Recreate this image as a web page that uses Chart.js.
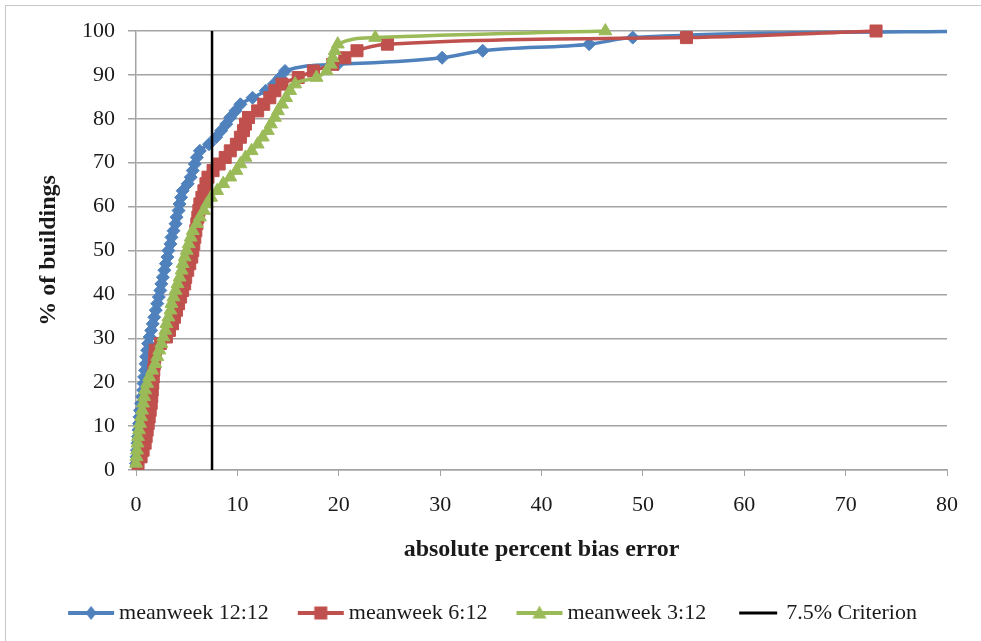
<!DOCTYPE html>
<html lang="en">
<head>
<meta charset="UTF-8">
<title>% of buildings vs absolute percent bias error</title>
<script src="https://cdn.jsdelivr.net/npm/chart.js@4.4.6/dist/chart.umd.min.js"></script>
<style>
  html, body { margin: 0; padding: 0; background: #fff; overflow: hidden; }
  .wrap { position: relative; width: 981px; height: 641px; }
  .frame {
    position: absolute; left: 5px; top: 5px; width: 1200px; height: 1000px;
    border-left: 1.5px solid #c8c8c8; border-top: 1.5px solid #c8c8c8;
  }
  canvas { position: absolute; left: 0; top: 0; }
</style>
</head>
<body>
<div class="wrap">
  <div class="frame"></div>
  <canvas id="chart" width="981" height="641"></canvas>
</div>
<script>
// ── Data ─────────────────────────────────────────────────────────────────────

// cumulative % of buildings, one step per building
const pctBuildings = [
  1.5, 3.0, 4.5, 6.1, 7.6, 9.1, 10.6, 12.1, 13.6, 15.2,
  16.7, 18.2, 19.7, 21.2, 22.7, 24.2, 25.8, 27.3, 28.8, 30.3,
  31.8, 33.3, 34.8, 36.4, 37.9, 39.4, 40.9, 42.4, 43.9, 45.5,
  47.0, 48.5, 50.0, 51.5, 53.0, 54.5, 56.1, 57.6, 59.1, 60.6,
  62.1, 63.6, 65.2, 66.7, 68.2, 69.7, 71.2, 72.7, 74.2, 75.8,
  77.3, 78.8, 80.3, 81.8, 83.3, 84.8, 86.4, 87.9, 89.4, 90.9,
  92.4, 93.9, 95.5, 97.0, 98.5, 100
];

// absolute percent bias error, sorted, per model
const errMeanweek12 = [
  0.0, 0.05, 0.1, 0.15, 0.2, 0.25, 0.3, 0.35, 0.4, 0.5,
  0.6, 0.7, 0.75, 0.8, 0.9, 0.95, 1.0, 1.1, 1.2, 1.35,
  1.5, 1.65, 1.8, 1.95, 2.1, 2.25, 2.4, 2.5, 2.65, 2.8,
  2.95, 3.1, 3.2, 3.4, 3.5, 3.7, 3.9, 4.0, 4.2, 4.3,
  4.45, 4.6, 5.1, 5.4, 5.6, 5.8, 6.0, 6.3, 7.2, 7.9,
  8.4, 8.9, 9.3, 9.8, 10.3, 11.5, 12.8, 13.6, 14.2, 14.7,
  19.9, 30.2, 34.2, 44.7, 49.0, 85.0
];
const errMeanweek6 = [
  0.2, 0.5, 0.7, 0.9, 1.0, 1.1, 1.2, 1.3, 1.4, 1.5,
  1.55, 1.6, 1.65, 1.7, 1.75, 1.8, 1.85, 1.9, 2.4, 3.0,
  3.3, 3.6, 3.8, 4.0, 4.2, 4.4, 4.6, 4.8, 4.9, 5.1,
  5.3, 5.5, 5.6, 5.7, 5.8, 5.9, 6.0, 6.1, 6.2, 6.3,
  6.5, 6.7, 6.9, 7.1, 7.6, 8.2, 8.8, 9.3, 9.9, 10.3,
  10.6, 10.8, 11.1, 12.0, 12.6, 13.2, 13.7, 14.4, 16.0, 17.5,
  19.4, 20.6, 21.8, 24.8, 54.3, 73.0
];
const errMeanweek3 = [
  0.0, 0.05, 0.1, 0.15, 0.2, 0.3, 0.4, 0.5, 0.6, 0.7,
  0.8, 0.9, 1.1, 1.3, 1.6, 1.9, 2.1, 2.3, 2.5, 2.7,
  2.9, 3.0, 3.2, 3.4, 3.5, 3.7, 3.9, 4.1, 4.3, 4.5,
  4.6, 4.8, 5.0, 5.2, 5.4, 5.6, 6.0, 6.3, 6.7, 7.0,
  7.4, 8.0, 8.6, 9.3, 9.9, 10.3, 10.8, 11.4, 12.0, 12.5,
  13.0, 13.3, 13.7, 14.0, 14.4, 14.8, 15.2, 15.7, 17.8, 18.8,
  19.2, 19.4, 19.6, 19.9, 23.6, 46.3
];

const criterionX = [7.5, 7.5];
const criterionY = [0, 100];

const seriesLabels = ['meanweek 12:12', 'meanweek 6:12', 'meanweek 3:12', '7.5% Criterion'];

// ── Style ────────────────────────────────────────────────────────────────────

const BLUE  = '#4f81bd';
const RED   = '#c0504d';
const GREEN = '#9bbb59';
const GRID  = '#a3a3a3';
const TEXT  = '#1a1a1a';
const FONT  = '"Liberation Serif", "Times New Roman", serif';

const toPoints = (xs, ys) => xs.map((x, i) => ({ x, y: ys[i] }));

// little line+marker icons for the legend
function legendIcon(color, marker, width) {
  const c = document.createElement('canvas');
  c.width = width; c.height = 20;
  const g = c.getContext('2d');
  g.strokeStyle = color;
  g.fillStyle = color;
  g.lineWidth = marker ? 4 : 3;
  g.beginPath(); g.moveTo(1, 10); g.lineTo(width - 1, 10); g.stroke();
  const cx = width / 2, cy = 10;
  g.beginPath();
  if (marker === 'diamond') {
    g.moveTo(cx, cy - 7); g.lineTo(cx + 5.5, cy); g.lineTo(cx, cy + 7); g.lineTo(cx - 5.5, cy);
  } else if (marker === 'square') {
    g.rect(cx - 6.5, cy - 6.5, 13, 13);
  } else if (marker === 'triangle') {
    g.moveTo(cx, cy - 7.5); g.lineTo(cx + 7, cy + 5.5); g.lineTo(cx - 7, cy + 5.5);
  }
  if (marker) { g.closePath(); g.fill(); }
  return c;
}
const legendIcons = [
  legendIcon(BLUE, 'diamond', 48),
  legendIcon(RED, 'square', 48),
  legendIcon(GREEN, 'triangle', 48),
  legendIcon('#000', null, 40),
];

// nudge the legend row to the right, as in the original
const legendShift = {
  id: 'legendShift',
  afterLayout(chart) {
    if (chart.legend) { chart.legend.left += 22; chart.legend.right += 22; }
  },
};

// ── Chart ────────────────────────────────────────────────────────────────────

const lineDefaults = {
  showLine: true,
  borderWidth: 3.5,
  cubicInterpolationMode: 'monotone',
  pointBorderWidth: 1,
  clip: { left: 10, top: 12, right: 0, bottom: 10 },
};

new Chart(document.getElementById('chart'), {
  type: 'scatter',
  data: {
    datasets: [
      {
        ...lineDefaults,
        label: seriesLabels[0],
        data: toPoints(errMeanweek12, pctBuildings),
        borderColor: BLUE, backgroundColor: BLUE, pointBorderColor: BLUE,
        pointStyle: 'rectRot', pointRadius: 6.5,
        order: 3,
      },
      {
        ...lineDefaults,
        label: seriesLabels[1],
        data: toPoints(errMeanweek6, pctBuildings),
        borderColor: RED, backgroundColor: RED, pointBorderColor: RED,
        pointStyle: 'rect', pointRadius: 8.5,
        order: 2,
      },
      {
        ...lineDefaults,
        label: seriesLabels[2],
        data: toPoints(errMeanweek3, pctBuildings),
        borderColor: GREEN, backgroundColor: GREEN, pointBorderColor: GREEN,
        pointStyle: 'triangle', pointRadius: 7.5,
        order: 1,
      },
      {
        label: seriesLabels[3],
        data: toPoints(criterionX, criterionY),
        showLine: true,
        borderColor: '#000', backgroundColor: '#000',
        borderWidth: 2.5, pointRadius: 0,
        order: 0,
      },
    ],
  },
  plugins: [legendShift],
  options: {
    responsive: false,
    animation: false,
    devicePixelRatio: 1,
    layout: { padding: { top: 31, right: 34, bottom: 7, left: 0 } },
    plugins: {
      tooltip: { enabled: false },
      legend: {
        position: 'bottom',
        labels: {
          usePointStyle: true,
          pointStyleWidth: 34,
          padding: 35,
          color: TEXT,
          font: { family: FONT, size: 22 },
          generateLabels: chart => chart.data.datasets.map((ds, i) => ({
            text: ds.label,
            pointStyle: legendIcons[i],
            fillStyle: 'transparent',
            strokeStyle: 'transparent',
            lineWidth: 0,
            hidden: false,
            datasetIndex: i,
            fontColor: TEXT,
          })),
        },
      },
    },
    scales: {
      x: {
        type: 'linear',
        min: 0, max: 80,
        ticks: { stepSize: 10, padding: 16, color: TEXT, maxRotation: 0, autoSkip: false,
                 font: { family: FONT, size: 22 } },
        grid: { drawOnChartArea: false, drawTicks: true, tickLength: 6, color: GRID },
        border: { color: GRID, width: 1.5 },
        title: {
          display: true, text: 'absolute percent bias error', color: TEXT,
          font: { family: FONT, size: 24, weight: 'bold' },
          padding: { top: 0, bottom: 3 },
        },
        afterFit: s => { s.height = 97; },
      },
      y: {
        min: 0, max: 100,
        ticks: { stepSize: 10, padding: 13, color: TEXT, font: { family: FONT, size: 22 } },
        grid: { tickLength: 8, color: GRID, lineWidth: 1.5 },
        border: { color: GRID, width: 1.5 },
        title: {
          display: true, text: '% of buildings', color: TEXT,
          font: { family: FONT, size: 24, weight: 'bold' },
          padding: { top: 34, bottom: 0 },
        },
        afterFit: s => { s.width = 136; },
      },
    },
  },
});
</script>
</body>
</html>
